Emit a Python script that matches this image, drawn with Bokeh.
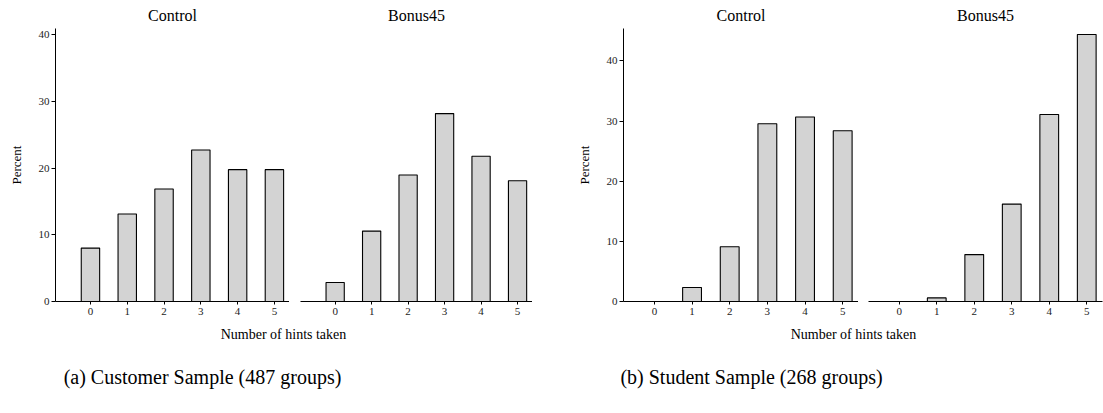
from bokeh.plotting import figure
from bokeh.layouts import column, row
from bokeh.models import Range1d, FixedTicker, Label
from bokeh.embed import file_html
from bokeh.resources import INLINE

# Share of groups (%) by number of hints taken
hints = [0, 1, 2, 3, 4, 5]
customer_control = [8.0, 13.1, 16.85, 22.7, 19.75, 19.75]
customer_bonus45 = [2.85, 10.55, 18.95, 28.15, 21.75, 18.1]
student_control = [0.0, 2.33, 9.1, 29.57, 30.68, 28.4]
student_bonus45 = [0.0, 0.6, 7.8, 16.2, 31.1, 44.4]

y_ticks = [0, 10, 20, 30, 40]
panel_titles = ["Control", "Bonus45"]
x_label = "Number of hints taken"
y_label = "Percent"
captions = ["(a) Customer Sample (487 groups)", "(b) Student Sample (268 groups)"]

SERIF = "Liberation Serif"
FRAME_H = 273
TOP = 28
BOTTOM = 20


def panel(values, title, x_range, y_range, left, frame_w, show_y, right=0):
    p = figure(frame_width=frame_w, frame_height=FRAME_H,
               x_range=x_range, y_range=y_range,
               min_border_left=left, min_border_right=right,
               min_border_top=TOP, min_border_bottom=BOTTOM,
               toolbar_location=None, output_backend="svg", title=title)
    p.vbar(x=hints, top=values, width=0.5, bottom=0,
           fill_color="#d3d3d3", line_color="black", line_width=1.1)

    p.title.align = "center"
    p.title.text_font = SERIF
    p.title.text_font_size = "16px"
    p.title.text_font_style = "normal"
    p.title.text_color = "black"
    p.title.standoff = 9

    p.xgrid.visible = False
    p.ygrid.visible = False
    p.outline_line_color = None

    xa = p.xaxis[0]
    xa.ticker = FixedTicker(ticks=hints)
    xa.major_tick_in = 0
    xa.major_tick_out = 3
    xa.minor_tick_line_color = None
    xa.axis_line_color = "black"
    xa.major_tick_line_color = "black"
    xa.major_label_text_font = SERIF
    xa.major_label_text_font_size = "11px"
    xa.major_label_text_color = "#222222"
    xa.major_label_standoff = 3

    ya = p.yaxis[0]
    if show_y:
        ya.ticker = FixedTicker(ticks=y_ticks)
        ya.major_tick_in = 0
        ya.major_tick_out = 4
        ya.minor_tick_line_color = None
        ya.axis_line_color = "black"
        ya.major_tick_line_color = "black"
        ya.major_label_text_font = SERIF
        ya.major_label_text_font_size = "11px"
        ya.major_label_text_color = "#222222"
        ya.major_label_standoff = 2
        ya.axis_label = y_label
        ya.axis_label_text_font = SERIF
        ya.axis_label_text_font_size = "13px"
        ya.axis_label_text_font_style = "normal"
        ya.axis_label_text_color = "black"
        ya.axis_label_standoff = 12
    else:
        ya.visible = False
    return p


xr_a = Range1d(-0.95, 5.41)
yr_a = Range1d(0, 40.9)
xr_b = Range1d(-0.82, 5.42)
yr_b = Range1d(0, 45.4)

a1 = panel(customer_control, panel_titles[0], xr_a, yr_a, 55, 234, True)
a2 = panel(customer_bonus45, panel_titles[1], xr_a, yr_a, 11, 232, False)
b1 = panel(student_control, panel_titles[0], xr_b, yr_b, 91, 235, True)
b2 = panel(student_bonus45, panel_titles[1], xr_b, yr_b, 10, 234, False, right=1)

# Shared axis titles and sub-figure captions underneath the panels
LABEL_H = 413 - (TOP + FRAME_H + BOTTOM)
foot = figure(width=1103, height=LABEL_H, x_range=Range1d(0, 1103), y_range=Range1d(LABEL_H, 0),
              min_border=0, toolbar_location=None, output_backend="svg")
foot.axis.visible = False
foot.grid.visible = False
foot.outline_line_color = None

for lx, cx, cap in zip([283, 853], [202, 751], captions):
    foot.add_layout(Label(x=lx, y=13, text=x_label, text_align="center",
                          text_baseline="middle", text_font=SERIF, text_font_size="14px",
                          text_color="black"))
    foot.add_layout(Label(x=cx, y=55, text=cap, text_align="center",
                          text_baseline="middle", text_font=SERIF,
                          text_font_size="20px", text_color="black"))

layout = column(row(a1, a2, b1, b2, spacing=0), foot, spacing=0)
open("out.html", "w").write(file_html(layout, INLINE))
